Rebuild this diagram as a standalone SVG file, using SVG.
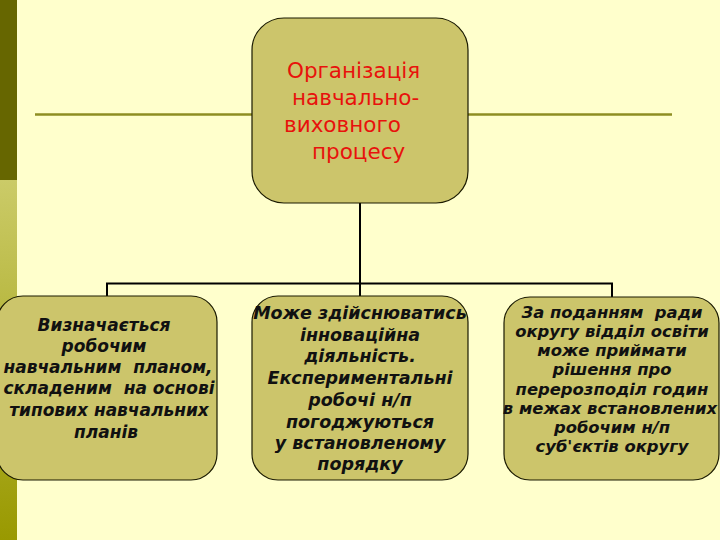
<svg xmlns="http://www.w3.org/2000/svg" width="720" height="540" viewBox="0 0 720 540">
<defs>
<linearGradient id="bar" x1="0" y1="0" x2="0" y2="1">
<stop offset="0" stop-color="#CBCB68"/>
<stop offset="1" stop-color="#999900"/>
</linearGradient>
<style>
.box{fill:#CCC56B;stroke:#1a1a00;stroke-width:1.2}
.title{font-family:"DejaVu Sans",Verdana,sans-serif;font-size:21.5px;fill:#E8120C}
.t{font-family:"DejaVu Sans",Verdana,sans-serif;font-weight:bold;font-style:italic;font-size:17.5px;fill:#111;text-anchor:middle;white-space:pre}
.l{font-size:17px}
.s{font-size:16.4px}
.conn{stroke:#000;fill:none;stroke-width:2}
</style>
</defs>
<rect width="720" height="540" fill="#FFFFCC"/>
<rect x="0" y="0" width="17" height="180" fill="#666600"/>
<rect x="0" y="180" width="17" height="360" fill="url(#bar)"/>
<line x1="35" y1="114.5" x2="672" y2="114.5" stroke="#8E8E22" stroke-width="2.5"/>
<g id="connectors">
<line class="conn" x1="360" y1="203" x2="360" y2="284" stroke-width="3"/>
<polyline class="conn" points="107,297 107,283.5 612,283.5 612,297"/>
<line class="conn" x1="360" y1="283" x2="360" y2="297"/>
</g>
<g id="root">
<rect class="box" x="252" y="18" width="216" height="185" rx="32"/>
<text class="title" x="287" y="78">Організація</text>
<text class="title" x="292" y="105">навчально-</text>
<text class="title" x="284" y="132">виховного</text>
<text class="title" x="312" y="159">процесу</text>
</g>
<g id="left">
<rect class="box" x="-3" y="296" width="220" height="184" rx="26"/>
<text class="t l" x="104" y="331">Визначається</text>
<text class="t l" x="104" y="352">робочим</text>
<text class="t l" x="108" y="373" xml:space="preserve">навчальним  планом,</text>
<text class="t l" x="109" y="394" xml:space="preserve">складеним  на основі</text>
<text class="t l" x="109" y="416">типових навчальних</text>
<text class="t l" x="106" y="438">планів</text>
</g>
<g id="middle">
<rect class="box" x="252" y="296" width="216" height="184" rx="26"/>
<text class="t" x="360" y="319">Може здійснюватись</text>
<text class="t" x="360" y="341">інноваційна</text>
<text class="t" x="360" y="362">діяльність.</text>
<text class="t" x="360" y="384">Експериментальні</text>
<text class="t" x="360" y="406">робочі н/п</text>
<text class="t" x="360" y="428">погоджуються</text>
<text class="t" x="360" y="449">у встановленому</text>
<text class="t" x="360" y="470">порядку</text>
</g>
<g id="right">
<rect class="box" x="504" y="297" width="215" height="183" rx="26"/>
<text class="t s" x="612" y="318" xml:space="preserve">За поданням  ради</text>
<text class="t s" x="612" y="337">округу відділ освіти</text>
<text class="t s" x="612" y="356">може приймати</text>
<text class="t s" x="612" y="375">рішення про</text>
<text class="t s" x="612" y="395">перерозподіл годин</text>
<text class="t s" x="610" y="414">в межах встановлених</text>
<text class="t s" x="612" y="433">робочим н/п</text>
<text class="t s" x="612" y="452">суб'єктів округу</text>
</g>
</svg>
